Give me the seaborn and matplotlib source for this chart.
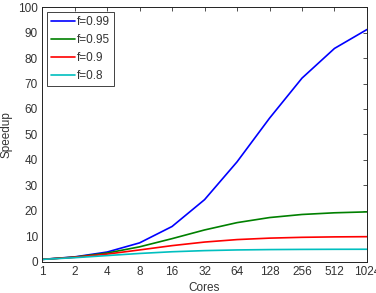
import matplotlib
matplotlib.use("Agg")
import matplotlib.pyplot as plt
import seaborn as sns
import pandas as pd

cores = [1, 2, 4, 8, 16, 32, 64, 128, 256, 512, 1024]
tick_labels = ["1", "2", "4", "8", "16", "32", "64", "128", "256", "512", "1024"]
series_names = ["f=0.99", "f=0.95", "f=0.9", "f=0.8"]
s099 = [1.0, 1.98, 3.88, 7.48, 13.91, 24.43, 39.26, 56.39, 72.11, 83.76, 91.18]
s095 = [1.0, 1.90, 3.48, 5.93, 9.14, 12.55, 15.42, 17.41, 18.62, 19.28, 19.64]
s090 = [1.0, 1.82, 3.08, 4.71, 6.40, 7.80, 8.77, 9.34, 9.66, 9.83, 9.91]
s080 = [1.0, 1.67, 2.50, 3.33, 4.00, 4.44, 4.71, 4.85, 4.92, 4.96, 4.98]
colors = ["#0000ff", "#008000", "#ff0000", "#00bfbf"]

rows = []
for name, vals in zip(series_names, [s099, s095, s090, s080]):
    for c, v in zip(cores, vals):
        rows.append({"Cores": c, "Speedup": v, "series": name})
df = pd.DataFrame(rows)

sns.set_style("white")
plt.rcParams["font.family"] = ["Liberation Sans", "DejaVu Sans"]
plt.rcParams["font.size"] = 8.5

fig = plt.figure(figsize=(3.76, 2.93), dpi=100)
ax = fig.add_axes([0.112, 0.106, 0.864, 0.870])
sns.lineplot(data=df, x="Cores", y="Speedup", hue="series", palette=colors,
             hue_order=series_names, ax=ax, linewidth=1.2, legend=True)
ax.set_xscale("log", base=2)
ax.set_xlim(1, 1024)
ax.set_ylim(0, 100)
ax.set_xticks(cores)
ax.set_xticklabels(tick_labels)
ax.minorticks_off()
ax.set_yticks(range(0, 101, 10))
ax.tick_params(direction="in", length=3, width=0.6, top=True, right=True,
               labelsize=8.5, pad=3, colors="#333333")
for sp in ax.spines.values():
    sp.set_linewidth(0.7)
    sp.set_color("#222222")
ax.set_xlabel("Cores", fontsize=8.5, labelpad=3, color="#333333")
ax.set_ylabel("Speedup", fontsize=8.5, labelpad=4, color="#333333")
leg = ax.legend(loc="upper left", bbox_to_anchor=(0.008, 0.99), fontsize=8.5,
                handlelength=2.0, handletextpad=0.2, borderpad=0.35,
                labelspacing=0.5, fancybox=False, framealpha=1,
                edgecolor="#222222", borderaxespad=0.2)
leg.get_frame().set_linewidth(0.6)
for t in leg.get_texts():
    t.set_color("#333333")
fig.savefig("out.png", dpi=100)
